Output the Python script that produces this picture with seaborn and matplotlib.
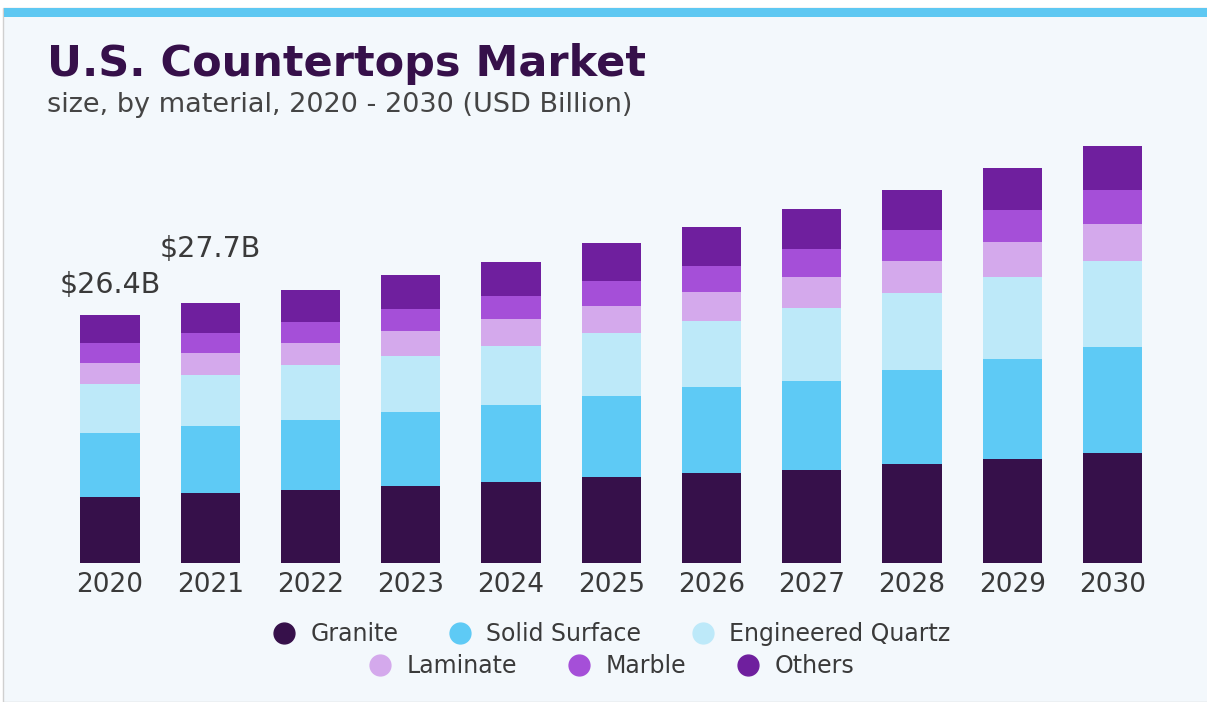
import matplotlib.pyplot as plt
import pandas as pd
import seaborn as sns
from matplotlib.lines import Line2D
from matplotlib.patches import Rectangle

# values (USD billion)
years = ['2020', '2021', '2022', '2023', '2024', '2025', '2026', '2027', '2028', '2029', '2030']
granite = [7.08, 7.44, 7.79, 8.22, 8.68, 9.14, 9.57, 9.92, 10.53, 11.09, 11.76]
solid_surface = [6.80, 7.16, 7.44, 7.87, 8.19, 8.68, 9.14, 9.46, 10.03, 10.66, 11.21]
engineered_quartz = [5.18, 5.39, 5.81, 5.99, 6.24, 6.63, 7.08, 7.73, 8.16, 8.66, 9.18]
laminate = [2.20, 2.40, 2.34, 2.63, 2.84, 2.90, 3.02, 3.30, 3.47, 3.75, 3.93]
marble = [2.13, 2.13, 2.30, 2.34, 2.48, 2.66, 2.83, 3.04, 3.26, 3.40, 3.62]
others = [3.01, 3.19, 3.37, 3.62, 3.65, 4.01, 4.08, 4.19, 4.25, 4.43, 4.71]
labels = ['$26.4B', '$27.7B']
label_offsets = [22, 46]  # pixels above bar top

materials = ['Granite', 'Solid Surface', 'Engineered Quartz', 'Laminate', 'Marble', 'Others']
colors = ['#36104a', '#5ecaf5', '#bde9f9', '#d4a9ec', '#a54fd8', '#6f1f9e']

df = pd.DataFrame({'year': years, 'Granite': granite, 'Solid Surface': solid_surface,
                   'Engineered Quartz': engineered_quartz, 'Laminate': laminate,
                   'Marble': marble, 'Others': others})
cum = df[materials].cumsum(axis=1)

bg = '#f3f8fc'
fig = plt.figure(figsize=(12.07, 7.02), dpi=100, facecolor='white')

# panel, top border and blue band
fig.patches.append(Rectangle((3 / 1207, 0), 1, 1 - 8 / 702, transform=fig.transFigure,
                             facecolor=bg, edgecolor='#d0d0d0', linewidth=1, zorder=-2))
fig.patches.append(Rectangle((4 / 1207, 1 - 17 / 702), 1, 9 / 702, transform=fig.transFigure,
                             facecolor='#5ec8f2', edgecolor='none', zorder=-1))

ax = fig.add_axes([59.9 / 1207, 138.7 / 702, 1102.7 / 1207, 451.4 / 702])
ax.set_facecolor('none')

# stacked bars: draw cumulative totals from top layer down
for m, c in reversed(list(zip(materials, colors))):
    sns.barplot(x=df['year'], y=cum[m], color=c, saturation=1, width=0.59,
                linewidth=0, ax=ax)

totals = cum['Others']
for i, lab in enumerate(labels):
    ax.annotate(lab, (i, totals[i]), xytext=(0, label_offsets[i]), textcoords='offset pixels',
                ha='center', va='baseline', fontsize=20.5, color='#3a3a3a')

ax.set_xlim(-0.5, 10.5)
ax.set_ylim(0, 48)
ax.set_xlabel('')
ax.set_ylabel('')
ax.set_yticks([])
for s in ax.spines.values():
    s.set_visible(False)
ax.tick_params(axis='x', length=0, pad=6, labelsize=19, labelcolor='#3a3a3a')

fig.text(47 / 1207, 1 - 64 / 702, 'U.S. Countertops Market', fontsize=31, fontweight='heavy',
         color='#36104a', va='center', ha='left')
fig.text(47 / 1207, 1 - 105 / 702, 'size, by material, 2020 - 2030 (USD Billion)', fontsize=19.5,
         color='#454545', va='center', ha='left')

handles = [Line2D([], [], marker='o', linestyle='', markersize=15, markerfacecolor=c,
                  markeredgecolor=c) for c in colors]
leg_kw = dict(loc='center', ncol=3, frameon=False, fontsize=17, handletextpad=0.63,
              columnspacing=2.1, labelcolor='#3a3a3a', borderpad=0, handlelength=1.0)
leg1 = ax.legend(handles[:3], materials[:3], bbox_to_anchor=(0.5, (563.3 - 634) / 451.4), **leg_kw)
ax.add_artist(leg1)
ax.legend(handles[3:], materials[3:], bbox_to_anchor=(0.5, (563.3 - 666) / 451.4), **leg_kw)

fig.savefig('out.png', dpi=100, facecolor=fig.get_facecolor())
